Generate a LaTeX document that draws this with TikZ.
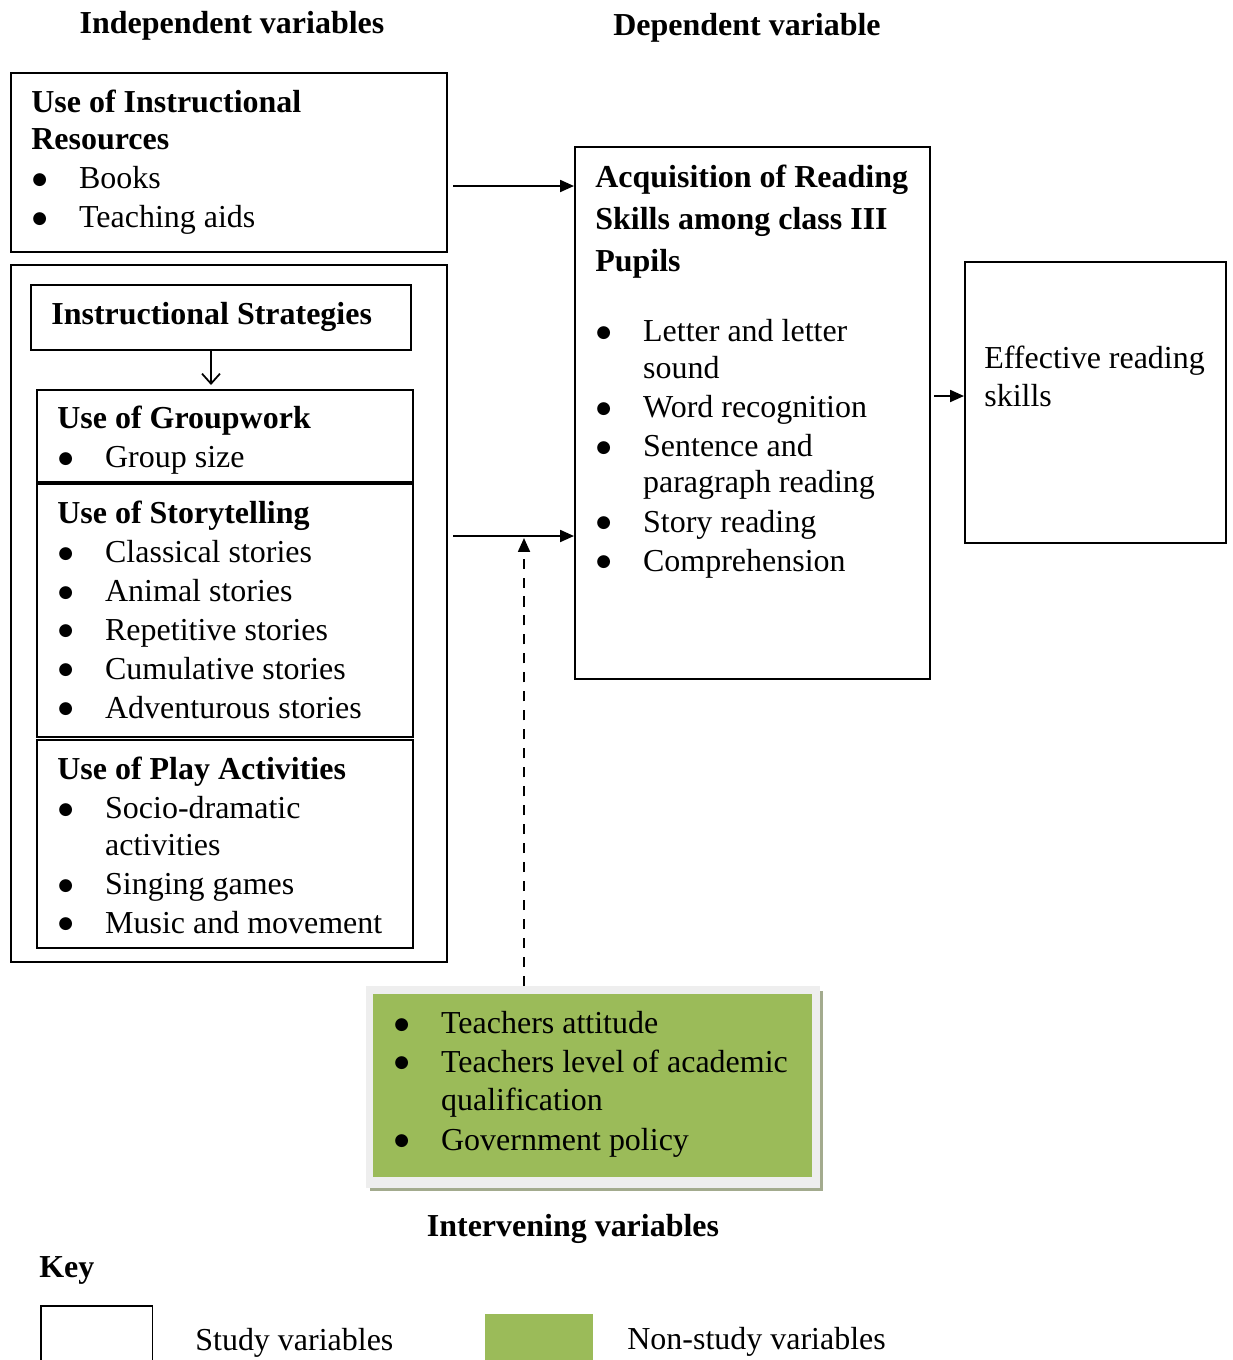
\documentclass[tikz,border=0pt]{standalone}
\usepackage{fontspec}
\setmainfont{Liberation Serif}
\newfontfamily\dotfont{DejaVu Sans}
\usetikzlibrary{arrows.meta,positioning}

\newlength\pxl
\setlength\pxl{0.5669pt}
\newcommand\bodyfont{\fontsize{18.2}{22.1}\selectfont}
\newcommand\bul{\makebox[48\pxl][l]{\hspace{1\pxl}\raisebox{2.5pt}{\dotfont\fontsize{9.6}{0}\selectfont ●}}}
\newcommand\wrap{\hspace*{48\pxl}}
\definecolor{nonstudy}{HTML}{9BBB59}
\definecolor{edgegray}{HTML}{EEEEEE}
\definecolor{shadowgray}{HTML}{A3AB8E}

\tikzset{
  box/.style={draw, line width=1.1pt, anchor=north west, inner sep=0pt},
  txt/.style={anchor=north west, align=left, inner sep=0pt, font=\bodyfont},
  title/.style={inner sep=0pt, font=\bodyfont\bfseries},
  flow/.style={line width=1.1pt, -{Triangle[length=7.9pt,width=6.8pt]}},
  openflow/.style={line width=1pt, -{Straight Barb[length=5.7pt,width=10.2pt]}},
  guess/.style={flow, dash pattern=on 5.7pt off 5.1pt},
}

\begin{document}
\begin{tikzpicture}[x=0.02cm, y=-0.02cm]
\useasboundingbox (0,0) rectangle (1232,1360);

% titles
\node[title] (indep) at (232,26) {Independent variables};
\node[title] (dep) at (747,28) {Dependent variable};
\node[title] (interv) at (573,1229) {Intervening variables};

% independent variables
\node[box, minimum width=438*\pxl, minimum height=180*\pxl] (resources) at (10,72) {};
\node[txt] (resourcesTxt) at (31,90) {\textbf{Use of Instructional}\\[-1.1pt]
  \textbf{Resources}\\
  \bul Books\\
  \bul Teaching aids};

\node[box, minimum width=438*\pxl, minimum height=700*\pxl] (strategies) at (10,264) {};
\node[box, minimum width=382*\pxl, minimum height=65*\pxl] (stratHead) at (30,284) {};
\node[txt] (stratTxt) at (51,302) {\textbf{Instructional Strategies}};

\node[box, minimum width=378*\pxl, minimum height=92*\pxl] (groupwork) at (36,389) {};
\node[txt] (groupworkTxt) at (57,406) {\textbf{Use of Groupwork}\\
  \bul Group size};

\node[box, minimum width=378*\pxl, minimum height=254*\pxl] (story) at (36,483) {};
\node[txt] (storyTxt) at (57,501) {\textbf{Use of Storytelling}\\
  \bul Classical stories\\
  \bul Animal stories\\
  \bul Repetitive stories\\
  \bul Cumulative stories\\
  \bul Adventurous stories};

\node[box, minimum width=378*\pxl, minimum height=209*\pxl] (play) at (36,739) {};
\node[txt] (playTxt) at (57,757) {\textbf{Use of Play Activities}\\
  \bul Socio-dramatic\\[-1.1pt]
  \wrap activities\\
  \bul Singing games\\
  \bul Music and movement};

% dependent variable
\node[box, minimum width=356*\pxl, minimum height=534*\pxl] (reading) at (574,146) {};
\node[txt] (readingTxt) at (595,165) {\textbf{Acquisition of Reading}\\[1.7pt]
  \textbf{Skills among class III}\\[1.7pt]
  \textbf{Pupils}\\[18pt]
  \bul Letter and letter\\[-1.1pt]
  \wrap sound\\
  \bul Word recognition\\
  \bul Sentence and\\[-1.7pt]
  \wrap paragraph reading\\[0.6pt]
  \bul Story reading\\
  \bul Comprehension};

\node[box, minimum width=262*\pxl, minimum height=282*\pxl] (effective) at (964,261) {};
\node[txt] (effectiveTxt) at (984,346) {Effective reading\\[-0.6pt]
  skills};

% intervening variables
\fill[shadowgray] (370,991) rectangle (823,1191);
\fill[edgegray] (366,986) rectangle (820,1188);
\node[box, draw=none, fill=nonstudy, minimum width=441*\pxl, minimum height=184*\pxl] (nonstudy) at (372,993) {};
\node[txt] (nonstudyTxt) at (393,1011) {\bul Teachers attitude\\
  \bul Teachers level of academic\\[-0.6pt]
  \wrap qualification\\[0.6pt]
  \bul Government policy};

% connectors
\coordinate (r0) at (453,186);
\coordinate (s0) at (453,536);
\coordinate (e0) at (934,396);
\coordinate (d0) at (524,986);
\coordinate (d1) at (524,538);
\coordinate (h0) at (211,350);
\coordinate (h1) at (211,385);
\draw[flow] (r0) -- (r0 -| reading.west);
\draw[flow] (s0) -- (s0 -| reading.west);
\draw[flow] (e0) -- (e0 -| effective.west);
\draw[guess] (d0) -- (d1);
\draw[openflow] (h0) -- (h1);

% key
\node[title, anchor=west] (key) at (39,1270) {Key};
\node[box, minimum width=112*\pxl, minimum height=70*\pxl] (keyStudy) at (40,1305) {};
\node[txt, anchor=west] (keyStudyTxt) at (195,1343) {Study variables};
\node[box, draw=none, fill=nonstudy, minimum width=108*\pxl, minimum height=60*\pxl] (keyNon) at (484,1313) {};
\node[txt, anchor=west] (keyNonTxt) at (627,1342) {Non-study variables};
\end{tikzpicture}
\end{document}
